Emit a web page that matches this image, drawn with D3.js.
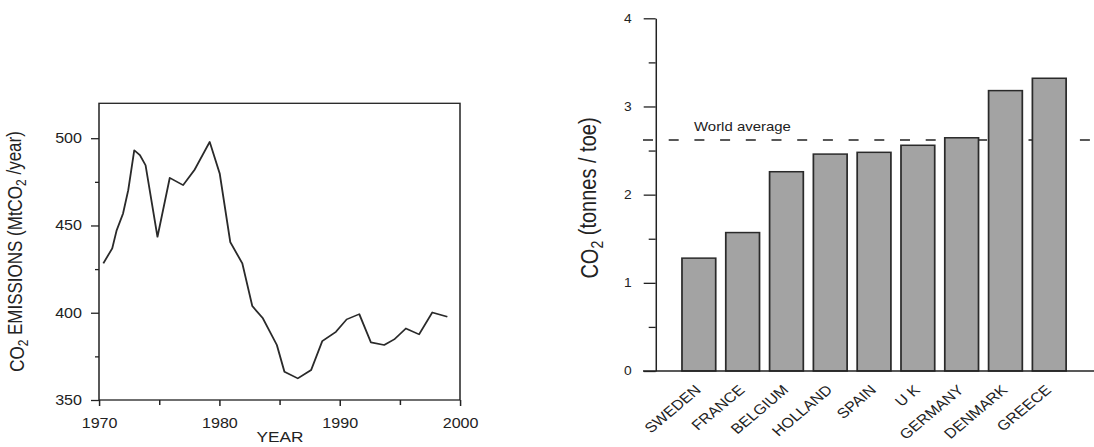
<!DOCTYPE html>
<html><head><meta charset="utf-8">
<script src="https://cdn.jsdelivr.net/npm/d3@7"></script>
<style>
html,body{margin:0;padding:0;background:#fff;overflow:hidden;}
text{font-family:"Liberation Sans",Arial,sans-serif;fill:#222;}
</style></head>
<body>
<svg id="chart"></svg>
<script>
// ---- Left chart data: CO2 emissions (MtCO2/year) ----
const lineYears = [1970.36,1971.1,1971.47,1972.0,1972.43,1972.93,1973.4,1973.87,1974.86,1975.88,1976.99,1977.96,1979.2,1980.03,1980.91,1981.91,1982.74,1983.62,1984.78,1985.41,1986.52,1987.63,1988.55,1989.69,1990.58,1991.63,1992.6,1993.7,1994.53,1995.5,1996.6,1997.7,1998.95];
const lineValues = [428.3,436.9,447.3,456.9,470.2,493.1,490.3,484.5,443.5,477.3,473.1,482.1,497.9,479.8,440.4,428.3,403.8,396.8,381.5,366.2,362.4,367.2,383.7,389.1,396.2,399.2,383.0,381.5,384.7,391.0,387.6,400.2,397.7];
const leftYTicks = [350,400,450,500];
const leftYMinor = [375,425,475];
const leftXTicks = [1970,1980,1990,2000];
const leftXMinor = [1975,1985,1995];

// ---- Right chart data: CO2 per toe ----
const countries = ["SWEDEN","FRANCE","BELGIUM","HOLLAND","SPAIN","U K","GERMANY","DENMARK","GREECE"];
const co2PerToe = [1.28,1.57,2.26,2.46,2.48,2.56,2.645,3.18,3.32];
const worldAverage = 2.62;
const rightYTicks = [0,1,2,3,4];
const rightYMinor = [0.5,1.5,2.5,3.5];

// horizontal stretch of the reference
const S = 1.15;
const W = 1094 / S, H = 447;
const X = px => px / S;

const svg = d3.select("#chart")
  .attr("width", 1094).attr("height", H)
  .attr("viewBox", `0 0 ${W} ${H}`)
  .attr("preserveAspectRatio", "none");

// ================= LEFT CHART =================
const xL = d3.scaleLinear().domain([1970, 2000]).range([X(99), X(460)]);
const yL = d3.scaleLinear().domain([350, 520]).range([400, 103.3]);

const gL = svg.append("g");

const yAx = gL.append("g").attr("transform", `translate(${X(99)},0)`)
  .call(d3.axisLeft(yL).tickValues(leftYTicks).tickSize(X(8)).tickPadding(X(9)).tickSizeOuter(0));
yAx.select(".domain").remove();
yAx.selectAll("text").style("font-size", "14px");
gL.append("g").attr("transform", `translate(${X(99)},0)`)
  .call(d3.axisLeft(yL).tickValues(leftYMinor).tickSize(X(4)).tickFormat(""))
  .select(".domain").remove();

const xAx = gL.append("g").attr("transform", `translate(0,400)`)
  .call(d3.axisBottom(xL).tickValues(leftXTicks).tickFormat(d3.format("d")).tickSize(6).tickPadding(12));
xAx.select(".domain").remove();
xAx.selectAll("text").style("font-size", "14px");
gL.append("g").attr("transform", `translate(0,400)`)
  .call(d3.axisBottom(xL).tickValues(leftXMinor).tickSize(5).tickFormat(""))
  .select(".domain").remove();

gL.selectAll(".tick line").attr("stroke", "#222").attr("stroke-width", 1.3);

gL.append("rect")
  .attr("x", xL(1970)).attr("y", yL(520))
  .attr("width", xL(2000) - xL(1970)).attr("height", yL(350) - yL(520))
  .attr("fill", "none").attr("stroke", "#222").attr("stroke-width", 1.3);

const lineData = lineYears.map((yr, i) => ({year: yr, value: lineValues[i]}));
gL.append("path").datum(lineData)
  .attr("fill", "none").attr("stroke", "#2a2a2a").attr("stroke-width", 1.6)
  .attr("stroke-linejoin", "round")
  .attr("d", d3.line().x(d => xL(d.year)).y(d => yL(d.value)));

gL.append("text").attr("x", X(280)).attr("y", 442.5).attr("text-anchor", "middle")
  .style("font-size", "15px").text("YEAR");

const ylab = gL.append("text").attr("transform", `translate(${X(24)},251.5) rotate(-90)`)
  .attr("text-anchor", "middle").style("font-size", "17px");
ylab.append("tspan").text("CO");
ylab.append("tspan").attr("dy", "0.3em").style("font-size", "12px").text("2");
ylab.append("tspan").attr("dy", "-0.3em").text(" EMISSIONS (MtCO");
ylab.append("tspan").attr("dy", "0.3em").style("font-size", "12px").text("2");
ylab.append("tspan").attr("dy", "-0.3em").text(" /year)");

// ================= RIGHT CHART =================
const yR = d3.scaleLinear().domain([0, 4]).range([371, 18.3]);
const xR = d3.scaleBand().domain(countries).range([X(655.7), X(1092.4)])
  .paddingInner(0.23).paddingOuter(0.6);

const gR = svg.append("g");

gR.append("line")
  .attr("x1", X(643)).attr("x2", W)
  .attr("y1", yR(worldAverage)).attr("y2", yR(worldAverage))
  .attr("stroke", "#222").attr("stroke-width", 1.3)
  .attr("stroke-dasharray", `${X(10)} ${X(15.7)}`);
gR.append("text").attr("x", X(694)).attr("y", 131.3)
  .style("font-size", "13px").text("World average");

gR.selectAll("rect.bar").data(countries).join("rect").attr("class", "bar")
  .attr("x", d => xR(d)).attr("width", xR.bandwidth())
  .attr("y", (d, i) => yR(co2PerToe[i]))
  .attr("height", (d, i) => yR(0) - yR(co2PerToe[i]))
  .attr("fill", "#a3a3a3").attr("stroke", "#2a2a2a").attr("stroke-width", 1.5);

gR.append("line").attr("x1", X(643)).attr("x2", W).attr("y1", yR(0)).attr("y2", yR(0))
  .attr("stroke", "#222").attr("stroke-width", 1.3);

const yRAx = gR.append("g").attr("transform", `translate(${X(655.7)},0)`)
  .call(d3.axisLeft(yR).tickValues(rightYTicks).tickFormat(d3.format("d")).tickSize(X(12)).tickPadding(X(12)).tickSizeOuter(0));
yRAx.select(".domain").attr("stroke", "#222").attr("stroke-width", 1.3);
yRAx.selectAll("text").style("font-size", "12px");
gR.append("g").attr("transform", `translate(${X(655.7)},0)`)
  .call(d3.axisLeft(yR).tickValues(rightYMinor).tickSize(X(7)).tickFormat(""))
  .select(".domain").remove();
gR.selectAll(".tick line").attr("stroke", "#222").attr("stroke-width", 1.3);

gR.selectAll("text.cat").data(countries).join("text").attr("class", "cat")
  .attr("transform", d => `translate(${xR(d) + xR.bandwidth() / 2 + X(3)},391) rotate(-44)`)
  .attr("text-anchor", "end").style("font-size", "14px").text(d => d);

const ylab2 = gR.append("text").attr("transform", `translate(${X(598)},198) rotate(-90)`)
  .attr("text-anchor", "middle").style("font-size", "20px");
ylab2.append("tspan").text("CO");
ylab2.append("tspan").attr("dy", "0.3em").style("font-size", "14px").text("2");
ylab2.append("tspan").attr("dy", "-0.3em").text(" (tonnes / toe)");
</script>
</body></html>
